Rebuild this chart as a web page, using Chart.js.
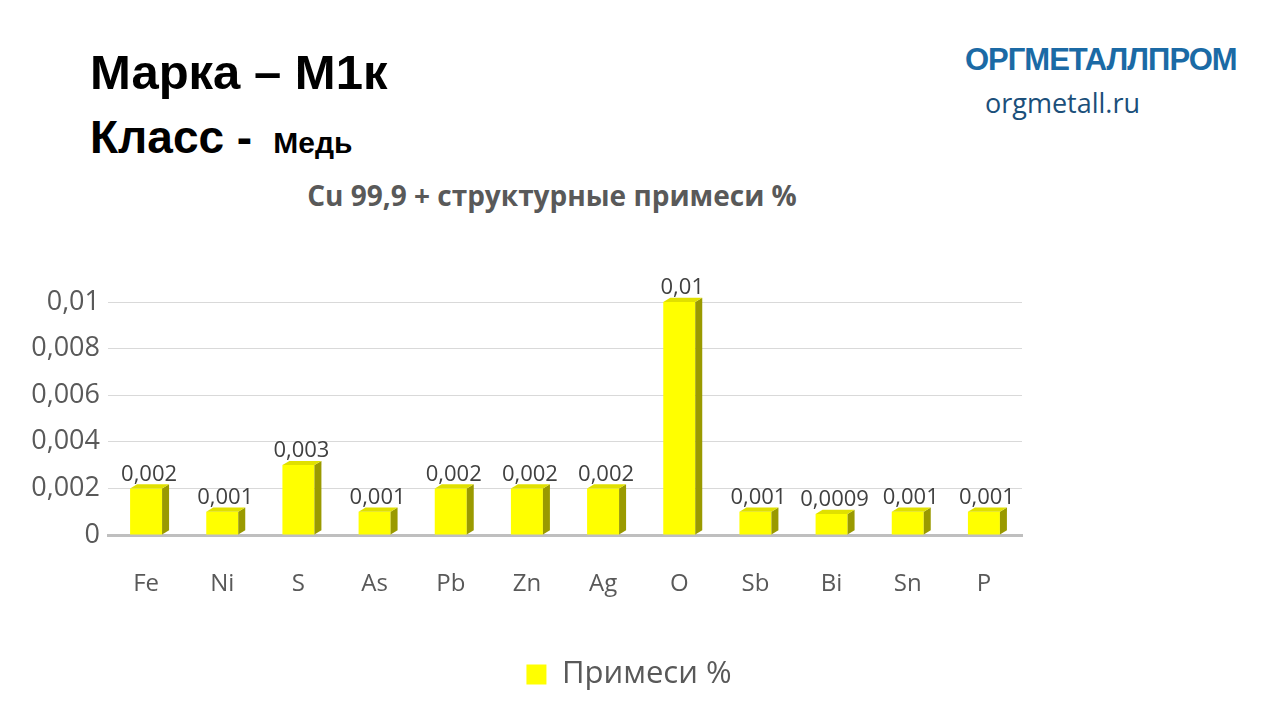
<!DOCTYPE html>
<html><head><meta charset="utf-8">
<script src="https://cdn.jsdelivr.net/npm/chart.js@4"></script>
<style>
body{margin:0;width:1280px;height:720px;background:#fff;font-family:"Liberation Sans",sans-serif;position:relative;overflow:hidden}
.t{position:absolute;white-space:nowrap}
</style></head><body>
<div class="t" style="left:90px;top:44px;font:bold 49px 'Liberation Sans';color:#000">Марка – М1к</div>
<div class="t" style="left:90px;top:110px;font:bold 46px 'Liberation Sans';color:#000">Класс - <span style="font-size:30px">&nbsp;Медь</span></div>
<div class="t" style="left:965px;top:42px;font:bold 31px 'Liberation Sans';color:#1b6aa5;letter-spacing:-1px">ОРГМЕТАЛЛПРОМ</div>
<div class="t" style="left:985px;top:84px;font:27px 'Open Sans';color:#1b4f7a">orgmetall.ru</div>
<div class="t" style="left:272px;top:176px;width:560px;text-align:center;font:bold 28px 'Open Sans';color:#595959">Cu 99,9 + структурные примеси %</div>
<canvas id="c" style="position:absolute;left:0;top:0"></canvas>
<script>
const categories = ['Fe','Ni','S','As','Pb','Zn','Ag','O','Sb','Bi','Sn','P'];
const values = [0.002,0.001,0.003,0.001,0.002,0.002,0.002,0.01,0.001,0.0009,0.001,0.001];
const labels = ['0,002','0,001','0,003','0,001','0,002','0,002','0,002','0,01','0,001','0,0009','0,001','0,001'];
const fmt = v => v === 0 ? '0' : String(+v.toFixed(4)).replace('.', ',');

const cv = document.getElementById('c');
cv.width = 1280; cv.height = 720;

const bar3d = {
  id: 'bar3d',
  afterLayout(chart) {
    // legend sits centred on the page in the reference, not on the plot
    chart.legend.left += 118; chart.legend.right += 118;
  },
  afterDatasetsDraw(chart) {
    const ctx = chart.ctx, meta = chart.getDatasetMeta(0), d = 7;
    ctx.save();
    meta.data.forEach((b, i) => {
      const l = b.x - b.width / 2, r = b.x + b.width / 2;
      ctx.fillStyle = '#9a9a00';
      ctx.beginPath();
      ctx.moveTo(r, b.y); ctx.lineTo(r + d, b.y - d * 0.6); ctx.lineTo(r + d, b.base - d * 0.6); ctx.lineTo(r, b.base); ctx.fill();
      ctx.fillStyle = '#e0e000';
      ctx.beginPath();
      ctx.moveTo(l, b.y); ctx.lineTo(l + d, b.y - d * 0.6); ctx.lineTo(r + d, b.y - d * 0.6); ctx.lineTo(r, b.y); ctx.fill();
      ctx.fillStyle = '#404040';
      ctx.font = '22px "Open Sans"';
      ctx.textAlign = 'center';
      ctx.fillText(labels[i], b.x + 3, b.y - 14);
    });
    ctx.restore();
  }
};

new Chart(cv, {
  type: 'bar',
  data: { labels: categories, datasets: [{ label: 'Примеси %', data: values, backgroundColor: '#ffff00', barPercentage: 0.42, categoryPercentage: 1 }] },
  options: {
    responsive: false, animation: false,
    layout: { padding: { top: 302, right: 258, bottom: 20, left: 0 } },
    plugins: {
      legend: { position: 'bottom', labels: { color: '#595959', font: { size: 31, family: 'Open Sans' }, boxWidth: 20, boxHeight: 20 } },
      tooltip: { enabled: false }
    },
    scales: {
      y: {
        min: 0, max: 0.01,
        ticks: { stepSize: 0.002, color: '#595959', font: { size: 27, family: 'Open Sans' }, callback: fmt, padding: 8 },
        grid: { color: '#d9d9d9', drawTicks: false }, border: { display: false },
        afterFit(s) { s.width = 108; }
      },
      x: {
        ticks: { color: '#595959', font: { size: 24, family: 'Open Sans' }, padding: 27 },
        grid: { display: false }, border: { color: '#bfbfbf', width: 3 },
        afterFit(s) { s.height = 114; }
      }
    }
  },
  plugins: [bar3d]
});
</script>
</body></html>
